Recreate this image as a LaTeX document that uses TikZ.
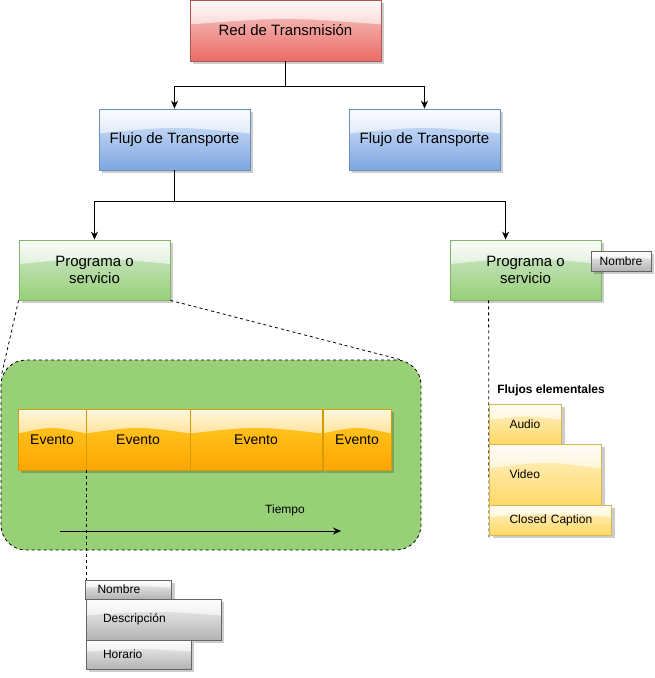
\documentclass[tikz,border=0pt]{standalone}
\usepackage{fontspec}
\setmainfont{Liberation Sans}
\usetikzlibrary{calc,shadows,arrows.meta,fadings}
\definecolor{redT}{HTML}{F8CECC}\definecolor{redB}{HTML}{EA6B66}\definecolor{redD}{HTML}{B85450}
\definecolor{blueT}{HTML}{DAE8FC}\definecolor{blueB}{HTML}{7EA6E0}\definecolor{blueD}{HTML}{6C8EBF}
\definecolor{greenT}{HTML}{D5E8D4}\definecolor{greenB}{HTML}{97D077}\definecolor{greenD}{HTML}{82B366}
\definecolor{orgT}{HTML}{FFCD28}\definecolor{orgB}{HTML}{FFA500}\definecolor{orgD}{HTML}{D79B00}
\definecolor{yelT}{HTML}{FFF2CC}\definecolor{yelB}{HTML}{FFD966}\definecolor{yelD}{HTML}{D6B656}
\definecolor{gryT}{HTML}{F5F5F5}\definecolor{gryB}{HTML}{B3B3B3}\definecolor{gryD}{HTML}{666666}
\definecolor{bgG}{HTML}{97D077}
\tikzfading[name=glassfade, top color=transparent!15, bottom color=transparent!85]
\tikzset{
  glass/.style={path picture={
    \fill[white, path fading=glassfade] (path picture bounding box.north west)
      -- ($(path picture bounding box.north west)!0.4!(path picture bounding box.south west)$)
      .. controls ($(path picture bounding box.north)!0.28!(path picture bounding box.south)$)
      .. ($(path picture bounding box.north east)!0.4!(path picture bounding box.south east)$)
      -- (path picture bounding box.north east) -- cycle;}},
  box/.style={draw, line width=0.8pt, inner sep=0pt, align=center,
    drop shadow={shadow xshift=3pt,shadow yshift=-3pt,fill=black,opacity=0.2}, glass},
  bigfont/.style={font=\fontsize{15}{17.5}\selectfont},
  redbox/.style={box, bigfont, draw=redD, top color=redT, bottom color=redB, minimum width=191pt, minimum height=61pt},
  bluebox/.style={box, bigfont, draw=blueD, top color=blueT, bottom color=blueB, minimum width=151pt, minimum height=61pt},
  greenbox/.style={box, bigfont, draw=greenD, top color=greenT, bottom color=greenB, minimum width=151pt, minimum height=60pt},
  evbox/.style={box, font=\fontsize{14}{16}\selectfont, draw=orgD, top color=orgT, bottom color=orgB, minimum height=61pt},
  yelbox/.style={box, font=\fontsize{12}{14}\selectfont, draw=yelD, top color=yelT, bottom color=yelB, align=left},
  grybox/.style={box, font=\fontsize{12}{14}\selectfont, draw=gryD, top color=gryT, bottom color=gryB},
  arr/.style={line width=1pt, -{Stealth[length=8pt,width=7pt]}},
  dsh/.style={line width=0.8pt, dash pattern=on 3pt off 3pt}
}
\begin{document}
\begin{tikzpicture}[x=1pt,y=-1pt]
\useasboundingbox (0,0) rectangle (654,678);
% tree
\node[redbox] (red) at (285.5,30.5) {Red de Transmisión};
\node[bluebox] (f1) at (174.5,139.5) {Flujo de Transporte};
\node[bluebox] (f2) at (424.5,139.5) {Flujo de Transporte};
\node[greenbox] (p1) at (94.5,270) {Programa o\\servicio};
\node[greenbox] (p2) at (525.5,270) {Programa o\\servicio};
\node[grybox, minimum width=60pt, minimum height=20pt] (nomR) at (621,261) {Nombre};
\draw[arr] (red.south) -- ++(0,25) -| (f1.north);
\draw[arr] (red.south) -- ++(0,25) -| (f2.north);
\draw[arr] (f1.south) -- ++(0,31) -| (p1.north);
\draw[arr] (f1.south) -- ++(0,31) -| ($(p2.north west)+(56,0)$);
% timeline background
\node[draw, dsh, fill=bgG, rounded corners=25pt, minimum width=420pt, minimum height=190pt, inner sep=0pt] (bg) at (211,455) {};
\draw[dsh] (p1.south west) -- ($(bg.north west)+(0.5,17)$);
\draw[dsh] (p1.south east) -- ($(bg.north east)+(-21,0)$);
\node[evbox, minimum width=68pt] (ev1) at (52,439.5) {Evento};
\node[evbox, minimum width=104pt] (ev2) at (138,439.5) {Evento};
\node[evbox, minimum width=132pt] (ev3) at (256,439.5) {Evento};
\node[evbox, minimum width=68pt] (ev4) at (357,439.5) {Evento};
\node[font=\fontsize{12}{14}\selectfont] (tiempo) at (285,510) {Tiempo};
\coordinate (t0) at (60,531);
\coordinate (t1) at (341,531);
\draw[arr] (t0) -- (t1);
% event attributes
\node[grybox, align=left, text width=62pt, inner xsep=12pt, minimum height=19pt] (nom) at (128.5,589.5) {\mbox{Nombre}};
\node[grybox, align=left, text width=101pt, inner xsep=17pt, minimum height=41pt] (desc) at (153.5,619.5) {\mbox{Descripción}};
\node[grybox, align=left, text width=71pt, inner xsep=17pt, minimum height=29pt] (hor) at (138.5,654.5) {\mbox{Horario}};
\draw[dsh] (ev1.south east) -- (ev1.south east |- nom.north);
% elementary streams
\coordinate (dend) at (489,540);
\draw[dsh] ($(p2.south west)+(39,0)$) -- (dend);
\node[font=\bfseries\fontsize{12}{14}\selectfont] (fe) at (551,390) {Flujos elementales};
\node[yelbox, text width=32pt, inner xsep=20pt, minimum height=40pt] (audio) at (525.5,424) {\mbox{Audio}};
\node[yelbox, text width=72pt, inner xsep=20pt, minimum height=61pt] (video) at (545.5,474.5) {\mbox{Video}};
\node[yelbox, text width=82pt, inner xsep=20pt, minimum height=30pt] (cc) at (550.5,520) {\mbox{Closed Caption}};
\end{tikzpicture}
\end{document}
